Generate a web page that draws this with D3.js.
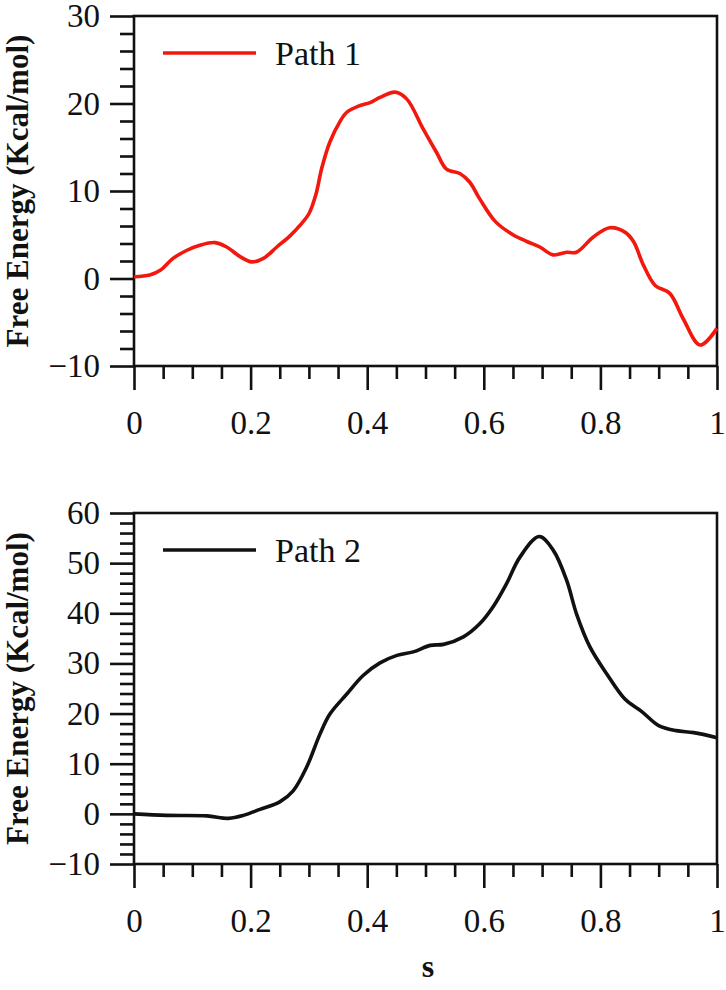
<!DOCTYPE html>
<html>
<head>
<meta charset="utf-8">
<script src="https://cdn.jsdelivr.net/npm/d3@7"></script>
<style>
  body { margin: 0; background: #fff; }
  svg text { font-family: "Liberation Serif", "Times New Roman", serif; }
</style>
</head>
<body>
<div id="chart"></div>
<script>
// reaction coordinate s and free energy (kcal/mol)
const path1S = [0, 0.027, 0.045, 0.067, 0.09, 0.113, 0.139, 0.159, 0.182, 0.202, 0.222, 0.245, 0.268, 0.285, 0.300, 0.312, 0.322, 0.336, 0.353, 0.365, 0.385, 0.405, 0.422, 0.448, 0.468, 0.496, 0.519, 0.536, 0.559, 0.576, 0.593, 0.62, 0.65, 0.675, 0.696, 0.719, 0.742, 0.759, 0.788, 0.816, 0.842, 0.857, 0.874, 0.894, 0.919, 0.942, 0.971, 1.0]
const path1E = [0.2, 0.4, 0.95, 2.3, 3.2, 3.8, 4.1, 3.6, 2.5, 1.9, 2.3, 3.6, 4.9, 6.1, 7.4, 9.6, 12.6, 15.6, 17.9, 19.0, 19.7, 20.1, 20.7, 21.3, 20.5, 17.1, 14.4, 12.5, 12.0, 11.0, 9.1, 6.5, 5.0, 4.2, 3.6, 2.7, 3.0, 3.0, 4.75, 5.8, 5.3, 4.2, 1.5, -0.8, -1.7, -4.6, -7.6, -5.7]

const path2S = [0, 0.056, 0.125, 0.162, 0.188, 0.216, 0.25, 0.273, 0.296, 0.319, 0.336, 0.365, 0.393, 0.422, 0.451, 0.479, 0.508, 0.531, 0.565, 0.593, 0.616, 0.639, 0.662, 0.695, 0.719, 0.742, 0.759, 0.782, 0.811, 0.842, 0.87, 0.9, 0.93, 0.96, 1.0]
const path2E = [0, -0.3, -0.4, -0.9, -0.3, 0.9, 2.4, 4.6, 9.3, 15.9, 19.9, 23.9, 27.6, 30.1, 31.6, 32.3, 33.6, 33.8, 35.3, 37.9, 41.3, 45.9, 51.2, 55.3, 52.6, 46.6, 39.9, 33.3, 27.9, 22.9, 20.5, 17.6, 16.6, 16.2, 15.2]

const xTicks = [0, 0.2, 0.4, 0.6, 0.8, 1]
const xTickLabels = ["0", "0.2", "0.4", "0.6", "0.8", "1"]
const yTicks1 = [-10, 0, 10, 20, 30]
const yTicks2 = [-10, 0, 10, 20, 30, 40, 50, 60]

const width = 726, height = 990
const left = 134, right = 717

const svg = d3.select("#chart").append("svg")
    .attr("width", width)
    .attr("height", height)

const x = d3.scaleLinear().domain([0, 1]).range([left, right])

function drawPanel(top, bottom, yDomain, yTicks, sVals, eVals, color, label) {
    const y = d3.scaleLinear().domain(yDomain).range([bottom, top])
    const g = svg.append("g")

    // minor ticks first
    const xMinor = d3.range(0, 1.0001, 0.05).filter(v => Math.abs(v * 5 - Math.round(v * 5)) > 1e-6)
    const yMinor = d3.range(yDomain[0], yDomain[1] + 0.001, 2).filter(v => v % 10 !== 0)

    g.append("g")
        .attr("transform", "translate(0," + bottom + ")")
        .call(d3.axisBottom(x).tickValues(xMinor).tickSize(13).tickFormat(""))
    g.append("g")
        .attr("transform", "translate(" + left + ",0)")
        .call(d3.axisLeft(y).tickValues(yMinor).tickSize(14).tickFormat(""))

    // major ticks
    g.append("g")
        .attr("transform", "translate(0," + bottom + ")")
        .call(d3.axisBottom(x).tickValues(xTicks).tickSize(24).tickPadding(21)
            .tickFormat((d, i) => xTickLabels[i]))
    g.append("g")
        .attr("transform", "translate(" + left + ",0)")
        .call(d3.axisLeft(y).tickValues(yTicks).tickSize(24).tickPadding(10)
            .tickFormat(d => d < 0 ? "\u221210" : d))

    g.selectAll(".domain").remove()
    g.selectAll(".tick line").attr("stroke", "#111").attr("stroke-width", 2.6)
    g.selectAll(".tick text").attr("fill", "#111").style("font-size", "33px")

    // frame
    g.append("rect")
        .attr("x", left).attr("y", top)
        .attr("width", right - left).attr("height", bottom - top)
        .attr("fill", "none").attr("stroke", "#111").attr("stroke-width", 2.6)

    const line = d3.line()
        .x((d, i) => x(sVals[i]))
        .y((d, i) => y(eVals[i]))
        .curve(d3.curveCatmullRom.alpha(0.5))

    g.append("path")
        .datum(sVals)
        .attr("d", line)
        .attr("fill", "none")
        .attr("stroke", color)
        .attr("stroke-width", 3.6)
        .attr("stroke-linejoin", "round")

    // legend
    const ly = top + 37
    g.append("line")
        .attr("x1", 163).attr("x2", 256)
        .attr("y1", ly).attr("y2", ly)
        .attr("stroke", color).attr("stroke-width", 3.6)
    g.append("text")
        .attr("x", 275).attr("y", ly)
        .attr("dy", "0.34em")
        .style("font-size", "34px")
        .attr("fill", "#111")
        .text(label)

    // y title
    g.append("text")
        .attr("transform", "translate(28," + (top + bottom) / 2 + ") rotate(-90)")
        .attr("text-anchor", "middle")
        .style("font-size", "31px")
        .style("font-weight", "bold")
        .attr("fill", "#111")
        .text("Free Energy (Kcal/mol)")
}

drawPanel(16, 366, [-10, 30], yTicks1, path1S, path1E, "#f2180e", "Path 1")
drawPanel(513, 864, [-10, 60], yTicks2, path2S, path2E, "#111", "Path 2")

svg.append("text")
    .attr("x", 428).attr("y", 977)
    .attr("text-anchor", "middle")
    .style("font-size", "32px")
    .style("font-weight", "bold")
    .attr("fill", "#111")
    .text("s")
</script>
</body>
</html>
